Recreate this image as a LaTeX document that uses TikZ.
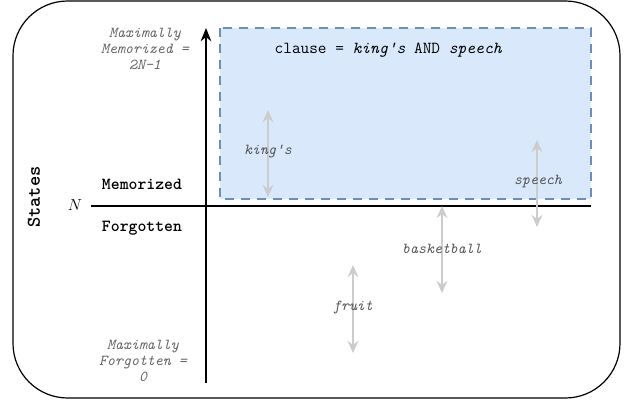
\documentclass[tikz,border=0pt]{standalone}
\usepackage{fontspec}
\usepackage{xcolor}
\usetikzlibrary{arrows.meta}
\definecolor{clausefill}{HTML}{DAE8FC}
\definecolor{clausedraw}{HTML}{6C8EBF}
\definecolor{mutedtext}{HTML}{666666}
\definecolor{wordtext}{HTML}{555555}
\definecolor{wordline}{HTML}{CCCCCC}
\tikzset{
  frame/.style={draw=black, line width=0.9pt, rounded corners=41pt},
  axis/.style={draw=black, line width=1.1pt},
  clausebox/.style={fill=clausefill, draw=clausedraw, dash pattern=on 7pt off 5pt, line width=0.9pt},
  span/.style={draw=wordline, line width=1.5pt, {Stealth[length=9pt,width=8pt]}-{Stealth[length=9pt,width=8pt]}},
  word/.style={text=wordtext, font=\ttfamily\itshape\fontsize{11.4}{13}\selectfont},
  extreme/.style={text=mutedtext, font=\ttfamily\itshape\fontsize{11.4}{12}\selectfont, align=center},
  zone/.style={font=\ttfamily\bfseries\fontsize{12.7}{14}\selectfont},
}
\begin{document}
\begin{tikzpicture}[x=0.75pt,y=-0.75pt]
  \useasboundingbox (0,0) rectangle (627,403);
  \draw[frame] (13,1) rectangle (620,398);
  % memorized region for the clause
  \draw[clausebox] (220,28) rectangle (591,199);
  \node[font=\ttfamily\fontsize{12.6}{14}\selectfont, anchor=west] (clause) at (270,50)
    {clause = \textit{king's} AND \textit{speech}};
  % axes
  \coordinate (ybot) at (206,383);
  \coordinate (ytop) at (206,28);
  \coordinate (xleft) at (91,206);
  \coordinate (xright) at (591,206);
  \draw[axis] (xleft) -- (xright);
  \draw[axis, -{Stealth[length=10pt,width=8pt]}] (ybot) -- (ytop);
  \node[font=\fontsize{11.5}{13}\selectfont] (nlabel) at (75,205) {$N$};
  \node[zone, font=\ttfamily\bfseries\fontsize{14.6}{16}\selectfont, rotate=90] (states) at (34,197) {States};
  \node[zone] (mem) at (142,184) {Memorized};
  \node[zone] (forg) at (142,228) {Forgotten};
  \node[extreme] (maxmem) at (145,49) {Maximally\\Memorized =\\2N-1};
  \node[extreme] (maxforg) at (143,361) {Maximally\\Forgotten =\\0};
  % words
  \coordinate (k1) at (268,110); \coordinate (k2) at (268,197);
  \coordinate (s1) at (537,140); \coordinate (s2) at (537,227);
  \coordinate (b1) at (442,206); \coordinate (b2) at (442,293);
  \coordinate (f1) at (353,265); \coordinate (f2) at (353,353);
  \draw[span] (k1) -- (k2);
  \draw[span] (s1) -- (s2);
  \draw[span] (b1) -- (b2);
  \draw[span] (f1) -- (f2);
  \node[word] (kings) at (268,152) {king's};
  \node[word] (speech) at (538,182) {speech};
  \node[word] (basket) at (442,249) {basketball};
  \node[word] (fruit) at (353,308) {fruit};
\end{tikzpicture}
\end{document}
